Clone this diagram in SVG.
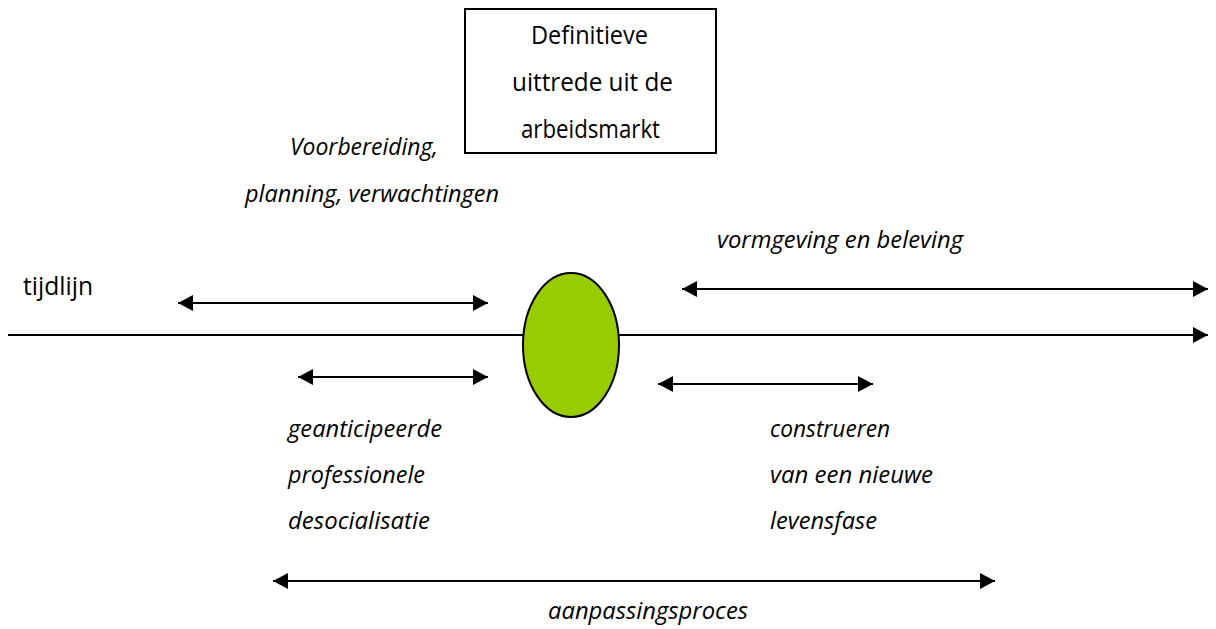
<svg xmlns="http://www.w3.org/2000/svg" width="1216" height="629" viewBox="0 0 1216 629">
  <style>
    .t { font-family: "Open Sans", "DejaVu Sans", sans-serif; font-size: 25px; fill: #000; }
    .i { font-style: italic; font-size: 24px; }
    .ln { stroke: #000; stroke-width: 2; fill: none; }
  </style>
  <defs>
    <marker id="ah" markerUnits="userSpaceOnUse" markerWidth="16" markerHeight="16" refX="15" refY="8" orient="auto-start-reverse" viewBox="0 0 16 16">
      <path d="M0,0 L15,8 L0,16 z" fill="#000"/>
    </marker>
  </defs>
  <rect width="1216" height="629" fill="#fff"/>

  <g id="connectors">
    <line class="ln" x1="8" y1="335" x2="1208" y2="335" marker-end="url(#ah)"/>
    <line class="ln" x1="178" y1="303" x2="488" y2="303" marker-start="url(#ah)" marker-end="url(#ah)"/>
    <line class="ln" x1="298" y1="377" x2="488" y2="377" marker-start="url(#ah)" marker-end="url(#ah)"/>
    <line class="ln" x1="682" y1="289" x2="1208" y2="289" marker-start="url(#ah)" marker-end="url(#ah)"/>
    <line class="ln" x1="658" y1="384" x2="873" y2="384" marker-start="url(#ah)" marker-end="url(#ah)"/>
    <line class="ln" x1="273" y1="581" x2="995" y2="581" marker-start="url(#ah)" marker-end="url(#ah)"/>
  </g>

  <g id="box">
    <rect x="465" y="9" width="251" height="144" fill="#fff" stroke="#000" stroke-width="2"/>
    <text class="t" x="531" y="44" textLength="117" lengthAdjust="spacingAndGlyphs">Definitieve</text>
    <text class="t" x="512" y="91" textLength="161" lengthAdjust="spacingAndGlyphs">uittrede uit de</text>
    <text class="t" x="521" y="138" textLength="139" lengthAdjust="spacingAndGlyphs">arbeidsmarkt</text>
  </g>

  <g id="event">
    <ellipse cx="571" cy="345" rx="48" ry="72" fill="#99CC00" stroke="#000" stroke-width="2"/>
  </g>

  <g id="label-tijdlijn">
    <text class="t" x="23" y="295" textLength="70" lengthAdjust="spacingAndGlyphs">tijdlijn</text>
  </g>

  <g id="label-voorbereiding">
    <text class="t i" x="290" y="155" textLength="148" lengthAdjust="spacingAndGlyphs">Voorbereiding,</text>
    <text class="t i" x="245" y="202" textLength="254" lengthAdjust="spacingAndGlyphs">planning, verwachtingen</text>
  </g>

  <g id="label-vormgeving">
    <text class="t i" x="717" y="248" textLength="246" lengthAdjust="spacingAndGlyphs">vormgeving en beleving</text>
  </g>

  <g id="label-desocialisatie">
    <text class="t i" x="288" y="437" textLength="154" lengthAdjust="spacingAndGlyphs">geanticipeerde</text>
    <text class="t i" x="288" y="483" textLength="137" lengthAdjust="spacingAndGlyphs">professionele</text>
    <text class="t i" x="288" y="529" textLength="142" lengthAdjust="spacingAndGlyphs">desocialisatie</text>
  </g>

  <g id="label-construeren">
    <text class="t i" x="770" y="437" textLength="120" lengthAdjust="spacingAndGlyphs">construeren</text>
    <text class="t i" x="770" y="483" textLength="163" lengthAdjust="spacingAndGlyphs">van een nieuwe</text>
    <text class="t i" x="770" y="529" textLength="107" lengthAdjust="spacingAndGlyphs">levensfase</text>
  </g>

  <g id="label-aanpassingsproces">
    <text class="t i" x="548" y="619" textLength="200" lengthAdjust="spacingAndGlyphs">aanpassingsproces</text>
  </g>
</svg>
